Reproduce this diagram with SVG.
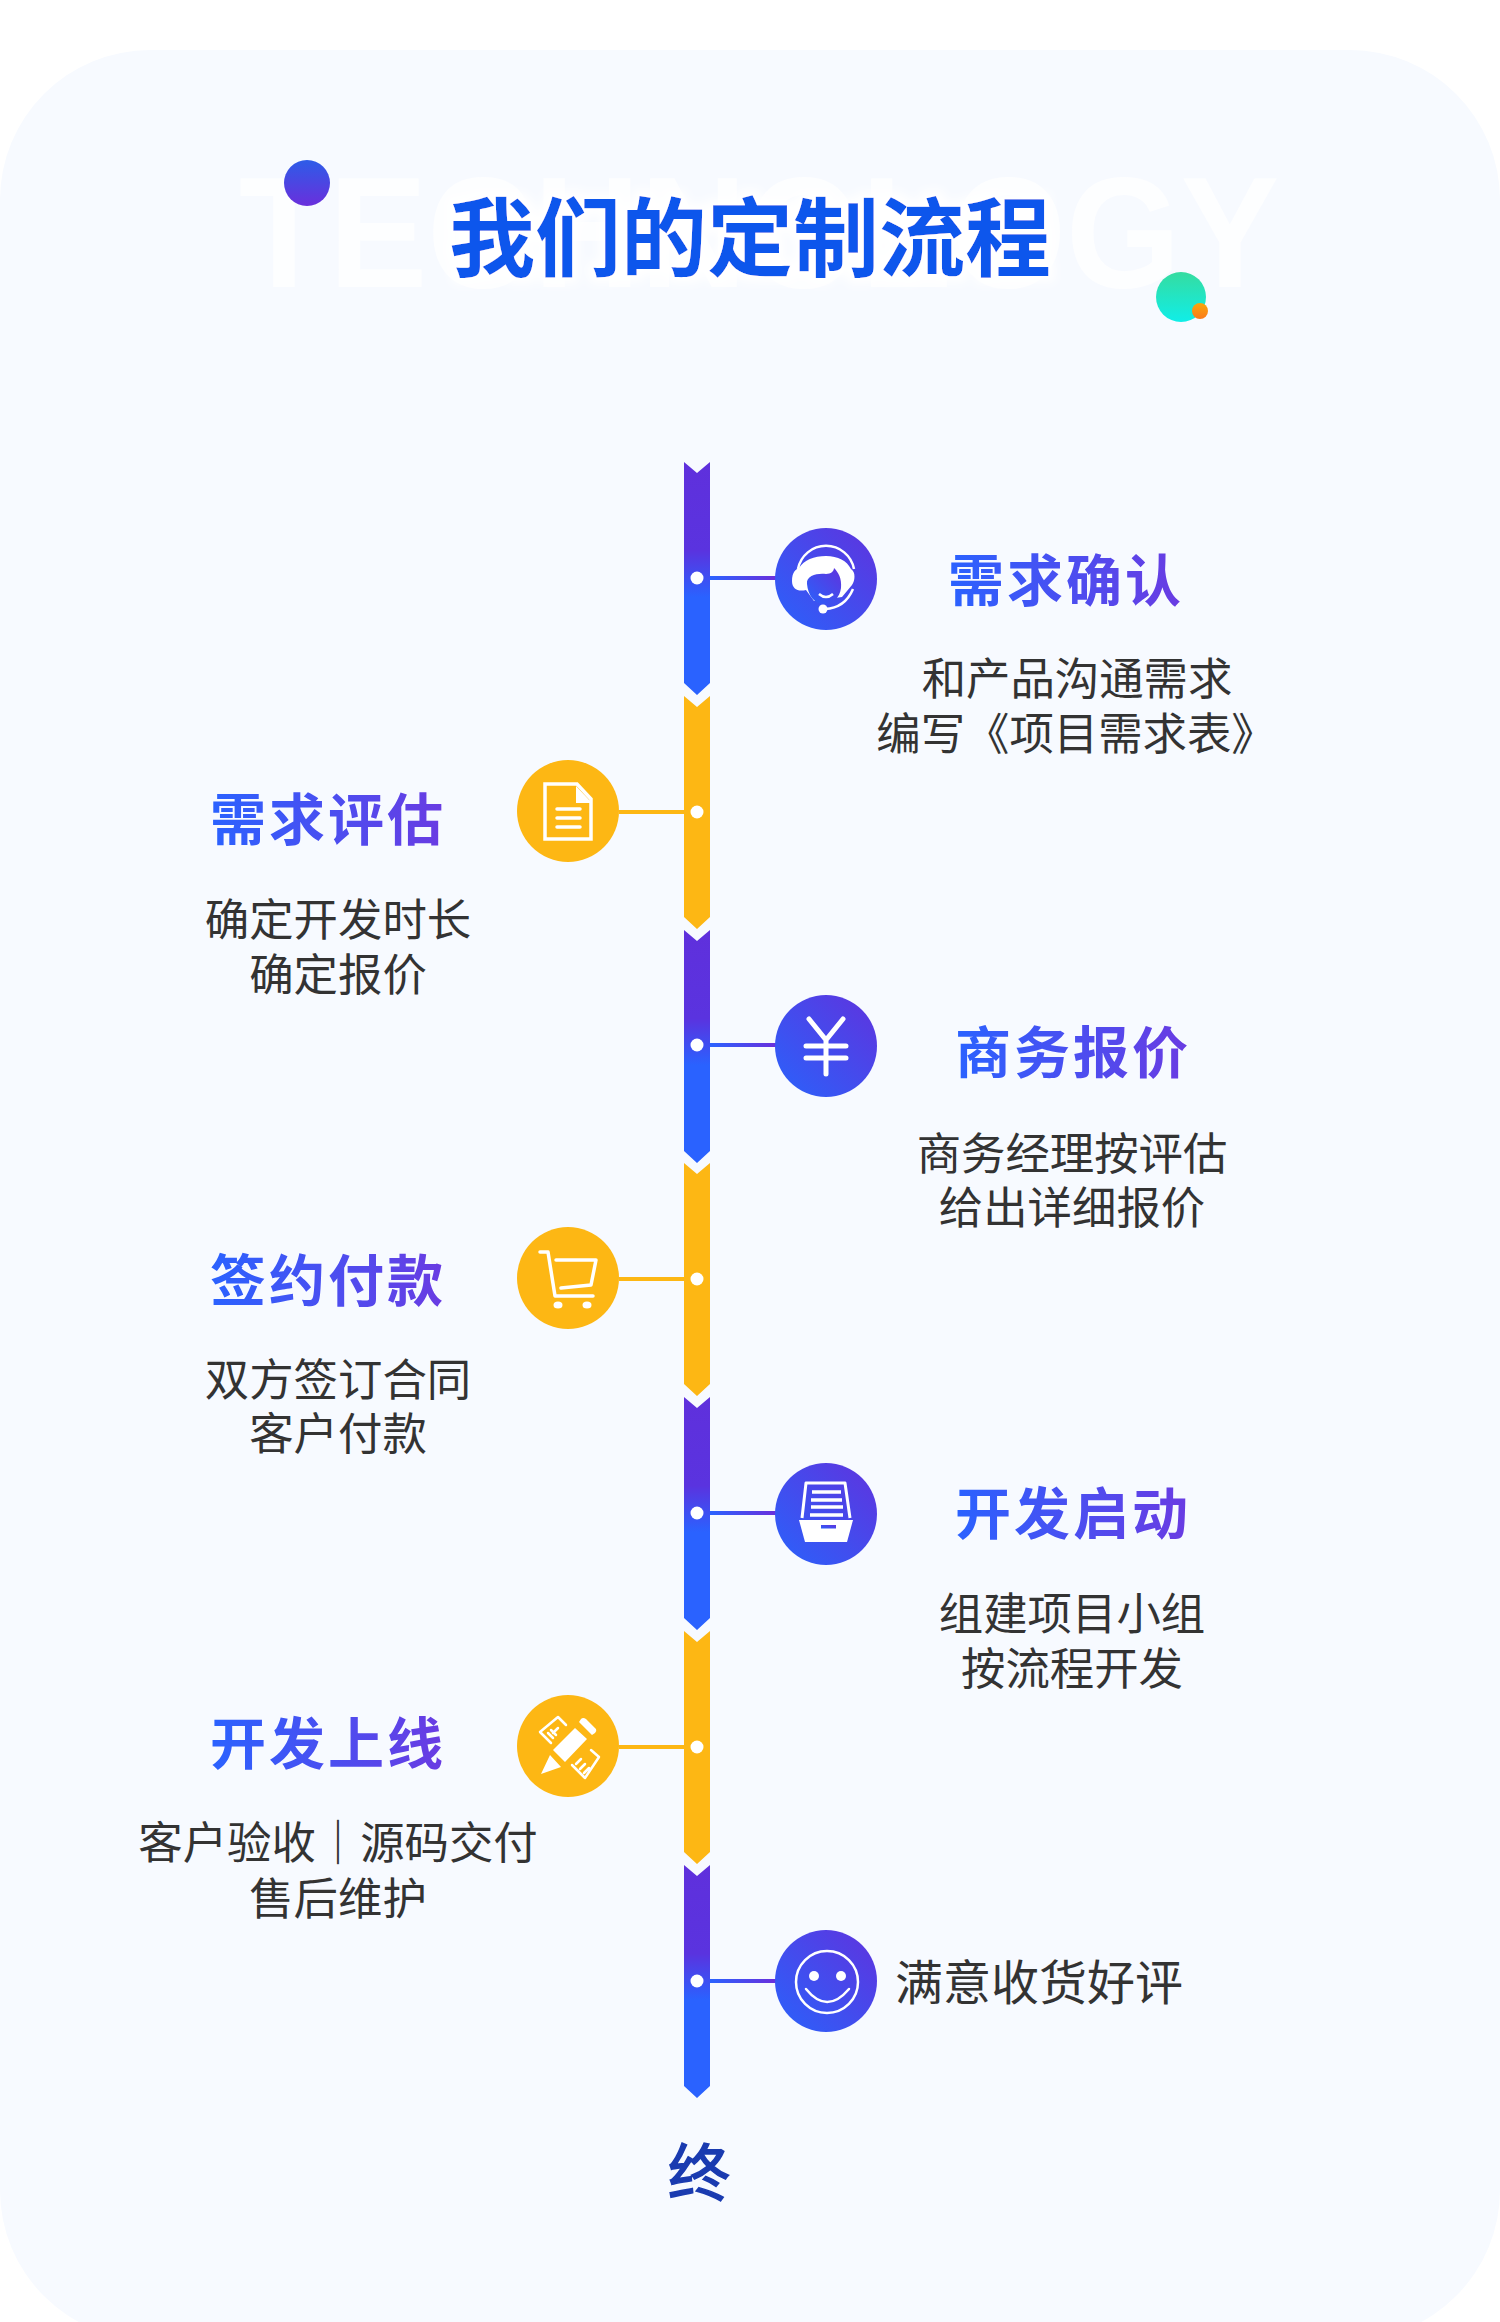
<svg xmlns="http://www.w3.org/2000/svg" width="1500" height="2322" viewBox="0 0 1500 2322">
<style>
text{font-family:"Noto Sans CJK SC","Noto Sans",sans-serif;text-anchor:middle}
.h{font-size:56px;font-weight:700;letter-spacing:3px;fill:url(#hg)}
.b{font-size:44.4px;fill:#333}
.sl{fill:none;stroke:#fff;stroke-width:3.5;stroke-linecap:round;stroke-linejoin:round}
.w{fill:#fff}
.cb{fill:url(#cg)}
.cy{fill:#fdb714}
</style>
<defs>
<linearGradient id="hg" x1="0" y1="0" x2="1" y2="0"><stop offset="0" stop-color="#2a62ff"/><stop offset="1" stop-color="#6a3be2"/></linearGradient>
<linearGradient id="cg" x1="0" y1="1" x2="1" y2="0"><stop offset="0" stop-color="#2a62fb"/><stop offset="1" stop-color="#5f33de"/></linearGradient>
<linearGradient id="bg" x1="0" y1="0" x2="0" y2="1"><stop offset="0" stop-color="#5f30dc"/><stop offset="0.38" stop-color="#5a33df"/><stop offset="0.58" stop-color="#2a62ff"/><stop offset="1" stop-color="#2a62ff"/></linearGradient>
<linearGradient id="d1" x1="0" y1="0" x2="0" y2="1"><stop offset="0" stop-color="#2d5ce8"/><stop offset="1" stop-color="#6a2fdc"/></linearGradient>
<linearGradient id="d2" x1="0" y1="0" x2="0" y2="1"><stop offset="0" stop-color="#35dca0"/><stop offset="1" stop-color="#10eee8"/></linearGradient>
<linearGradient id="d3" x1="0" y1="0" x2="0" y2="1"><stop offset="0" stop-color="#f9a70a"/><stop offset="1" stop-color="#fb7a1c"/></linearGradient>
<linearGradient id="lg" x1="0" y1="0" x2="1" y2="0"><stop offset="0" stop-color="#2a62ff"/><stop offset="1" stop-color="#6a2fdc"/></linearGradient>
<path id="seg" d="M684,0L697,11L710,0V221L697,233L684,221Z"/>
<filter id="halo" x="-10%" y="-40%" width="120%" height="180%"><feMorphology in="SourceAlpha" operator="dilate" radius="6" result="m"/><feGaussianBlur in="m" stdDeviation="5" result="g"/><feFlood flood-color="#fff"/><feComposite in2="g" operator="in" result="w"/><feMerge><feMergeNode in="w"/><feMergeNode in="SourceGraphic"/></feMerge></filter>
</defs>
<rect width="1500" height="2322" fill="#fff"/>
<rect x="0" y="50" width="1500" height="2290" rx="150" ry="150" fill="#f7faff"/>

<g id="header">
<text x="759" y="287" font-size="158" font-weight="700" fill="#fff" opacity="0.8" textLength="1040" lengthAdjust="spacingAndGlyphs" style="font-family:'Liberation Sans',sans-serif">TECHNOLOGY</text>
<text x="750" y="270" font-size="86" font-weight="700" fill="#0a56ec" filter="url(#halo)">我们的定制流程</text>
<circle cx="307" cy="183" r="23" fill="url(#d1)"/>
<circle cx="1181" cy="297" r="25" fill="url(#d2)"/>
<circle cx="1200" cy="311" r="8" fill="url(#d3)"/>
</g>

<g id="spine">
<use href="#seg" y="462" fill="url(#bg)"/>
<use href="#seg" y="696" class="cy"/>
<use href="#seg" y="930" fill="url(#bg)"/>
<use href="#seg" y="1163" class="cy"/>
<use href="#seg" y="1397" fill="url(#bg)"/>
<use href="#seg" y="1631" class="cy"/>
<use href="#seg" y="1865" fill="url(#bg)"/>
</g>

<g id="connectors">
<rect x="710" y="576" width="66" height="4" fill="url(#lg)"/>
<rect x="619" y="810" width="65" height="4" class="cy"/>
<rect x="710" y="1043" width="66" height="4" fill="url(#lg)"/>
<rect x="619" y="1277" width="65" height="4" class="cy"/>
<rect x="710" y="1511" width="66" height="4" fill="url(#lg)"/>
<rect x="619" y="1745" width="65" height="4" class="cy"/>
<rect x="710" y="1979" width="66" height="4" fill="url(#lg)"/>
</g>

<g id="dots" class="w">
<circle cx="697" cy="578" r="6.5"/><circle cx="697" cy="812" r="6.5"/><circle cx="697" cy="1045" r="6.5"/><circle cx="697" cy="1279" r="6.5"/><circle cx="697" cy="1513" r="6.5"/><circle cx="697" cy="1747" r="6.5"/><circle cx="697" cy="1981" r="6.5"/>
</g>

<g id="node-1">
<g transform="translate(826,579)">
<circle r="51" class="cb"/>
<path d="M-28,-10A28.5,28.5 0 0 1 28,-10" fill="none" stroke="#fff" stroke-width="2.5"/>
<path class="w" d="M-34,2C-34,-7 -30,-10 -27,-11C-22,-19 -12,-23 0,-23C12,-23 21,-18 25,-10C30,-7 29,2 26,6L16,18L-12,22L-20,11C-28,13 -34,10 -34,2Z"/>
<path class="cb" d="M-19,5C-20,-4 -8,-6 0,-5C5,-5 8,-8 8,-11C12,-7 16,-1 15,9C14,19 6,25 -2,25C-12,25 -18,16 -19,5Z"/>
<path d="M-7,15Q0,21 7,15" fill="none" stroke="#fff" stroke-width="2.5"/>
<path d="M27,10Q19,29 -1,30" fill="none" stroke="#fff" stroke-width="2.5"/>
<circle cx="-3" cy="30" r="4.5" class="w"/>
</g>
<text class="h" x="1066" y="601">需求确认</text>
<text class="b" x="1077" y="695">和产品沟通需求</text>
<text class="b" x="1076" y="750">编写《项目需求表》</text>
</g>

<g id="node-2">
<g transform="translate(568,811)">
<circle r="51" class="cy"/>
<path class="sl" d="M-23,-27H9L23,-12V28H-23Z" style="stroke-linecap:square;stroke-linejoin:miter"/>
<path class="w" d="M8,-25V-8H24Z"/>
<path class="sl" d="M-11,-2H12M-11,7H12M-11,16H12"/>
</g>
<text class="h" x="328" y="840">需求评估</text>
<text class="b" x="338" y="936">确定开发时长</text>
<text class="b" x="338" y="991">确定报价</text>
</g>

<g id="node-3">
<g transform="translate(826,1046)">
<circle r="51" class="cb"/>
<path class="sl" style="stroke-width:5" d="M-17,-27L0,-6L17,-27M0,-6V28M-20,0H20M-20,12H20"/>
</g>
<text class="h" x="1073" y="1073">商务报价</text>
<text class="b" x="1072" y="1170">商务经理按评估</text>
<text class="b" x="1072" y="1224">给出详细报价</text>
</g>

<g id="node-4">
<g transform="translate(568,1278)">
<circle r="51" class="cy"/>
<path class="sl" d="M-28,-26H-20L-13,18H25M-12,-18H28L23,7L-7,10"/>
<ellipse cx="-10" cy="27" rx="4.5" ry="3.5" class="w"/><ellipse cx="19" cy="27" rx="4.5" ry="3.5" class="w"/>
</g>
<text class="h" x="328" y="1301">签约付款</text>
<text class="b" x="338" y="1396">双方签订合同</text>
<text class="b" x="338" y="1450">客户付款</text>
</g>

<g id="node-5">
<g transform="translate(826,1514)">
<circle r="51" class="cb"/>
<path class="sl" d="M-24,4L-20,-31H19L24,4" style="stroke-linecap:butt;stroke-width:3"/>
<path class="sl" style="stroke-linecap:butt;stroke-width:3.5" d="M-14,-22H15M-15,-14H16M-15,-7H17M-16,1H17"/>
<path class="w" d="M-27,6H27L21,28H-21Z"/>
<rect x="-5" y="11" width="15" height="3.5" class="cb"/>
</g>
<text class="h" x="1073" y="1534">开发启动</text>
<text class="b" x="1072" y="1630">组建项目小组</text>
<text class="b" x="1072" y="1685">按流程开发</text>
</g>

<g id="node-6">
<g transform="translate(568,1746)">
<circle r="51" class="cy"/>
<path class="w" d="M-15,4L7,-18L19,-7L-3,16ZM-27,28L-18,9L-7,21ZM13,-27Q15,-29 18,-27L28,-17Q29,-15 27,-13L24,-11L11,-24Z"/>
<path class="sl" style="stroke-width:2.5" d="M-2,-21L-10,-29L-28,-14L-17,-3M-20,-13L-15,-8M-17,-16L-12,-11M-15,-13L-10,-18M23,4L31,11L17,32L4,19M8,18L13,13M12,23L17,18M16,27L21,22"/>
</g>
<text class="h" x="328" y="1764">开发上线</text>
<text class="b" x="338" y="1859">客户验收｜源码交付</text>
<text class="b" x="338" y="1915">售后维护</text>
</g>

<g id="node-7">
<g transform="translate(826,1981)">
<circle r="51" class="cb"/>
<circle cx="1" cy="1" r="31" fill="none" stroke="#fff" stroke-width="2.5"/>
<circle cx="-12" cy="-5" r="5" class="w"/><circle cx="15" cy="-5" r="5" class="w"/>
<path d="M-20,8Q1,34 23,8" fill="none" stroke="#fff" stroke-width="2.5" stroke-linecap="round"/>
</g>
<text class="b" x="1039" y="2000" style="font-size:48px">满意收货好评</text>
</g>

<g id="end">
<text x="699" y="2196" font-size="62" fill="#1a3bb0" stroke="#1a3bb0" stroke-width="1.5">终</text>
</g>
</svg>
